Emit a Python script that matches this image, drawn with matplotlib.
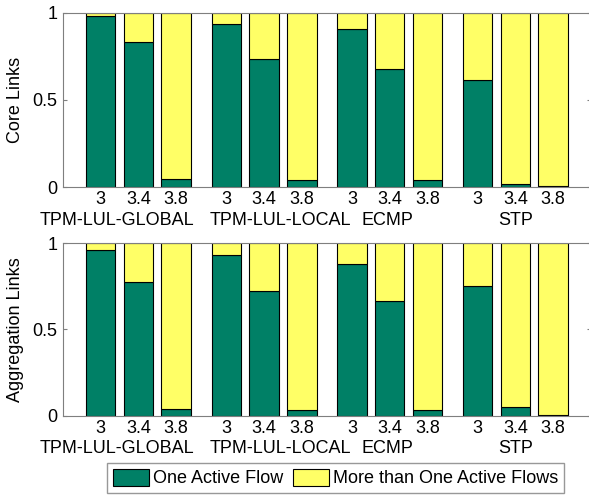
import matplotlib
matplotlib.use("Agg")
import matplotlib.pyplot as plt
import numpy as np

plt.rcParams['font.family'] = ['Liberation Sans', 'DejaVu Sans']

# data
groups = ["TPM-LUL-GLOBAL", "TPM-LUL-LOCAL", "ECMP", "STP"]
loads = ["3", "3.4", "3.8"]
core_one = [[0.98, 0.83, 0.048],
            [0.937, 0.735, 0.038],
            [0.908, 0.677, 0.038],
            [0.613, 0.015, 0.006]]
agg_one = [[0.959, 0.775, 0.041],
           [0.928, 0.725, 0.031],
           [0.88, 0.663, 0.035],
           [0.75, 0.052, 0.006]]
ylabels = ["Core Links", "Aggregation Links"]
legend_labels = ["One Active Flow", "More than One Active Flows"]

green = (0, 0.5, 0.4)
yellow = (1, 1, 0.4)
spine_col = "#7f7f7f"

# group label shifts (labels were nudged to avoid overlap)
label_shift = [-0.17, 0.13, -0.02, 0.0]

fig = plt.figure(figsize=(5.89, 4.95), dpi=100)
ax_rects = [[0.107, 0.622, 0.896, 0.352], [0.107, 0.160, 0.896, 0.349]]

offs = np.array([-0.3, 0.0, 0.3])
width = 0.235

for k, vals in enumerate([core_one, agg_one]):
	ax = fig.add_axes(ax_rects[k])
	vals = np.array(vals)
	xs = []
	for g in range(len(groups)):
		x = g + 1 + offs
		xs.extend(x)
		one = vals[g]
		ax.bar(x, one, width, color=green, edgecolor="black", linewidth=0.8)
		ax.bar(x, 1 - one, width, bottom=one, color=yellow, edgecolor="black", linewidth=0.8)
	ax.set_xlim(0.4, 4.6)
	ax.set_ylim(0, 1)
	ax.set_xticks(xs)
	ax.set_xticklabels(loads * len(groups), fontsize=13)
	ax.tick_params(axis="x", length=0, pad=3)
	ax.set_yticks([0, 0.5, 1])
	ax.set_yticklabels(["0", "0.5", "1"], fontsize=13)
	ax.tick_params(axis="y", direction="in", length=3, right=True, color=spine_col, pad=4)
	for s in ax.spines.values():
		s.set_color(spine_col)
	ax.set_ylabel(ylabels[k], fontsize=13, labelpad=6)
	for g, name in enumerate(groups):
		ax.text(g + 1 + label_shift[g], -0.19, name, fontsize=13, ha="center", va="center",
			transform=ax.get_xaxis_transform())

handles = [plt.Rectangle((0, 0), 1, 1, facecolor=green, edgecolor="black", linewidth=0.8),
	plt.Rectangle((0, 0), 1, 1, facecolor=yellow, edgecolor="black", linewidth=0.8)]
leg = fig.legend(handles, legend_labels, loc="center", bbox_to_anchor=(0.57, 0.034), ncol=2,
	fontsize=13, frameon=True, fancybox=False, handlelength=2.0, handleheight=1.05,
	handletextpad=0.25, columnspacing=0.5, borderpad=0.3, borderaxespad=0)
leg.get_frame().set_edgecolor(spine_col)
leg.get_frame().set_linewidth(1.0)

fig.savefig("out.png", dpi=100)
